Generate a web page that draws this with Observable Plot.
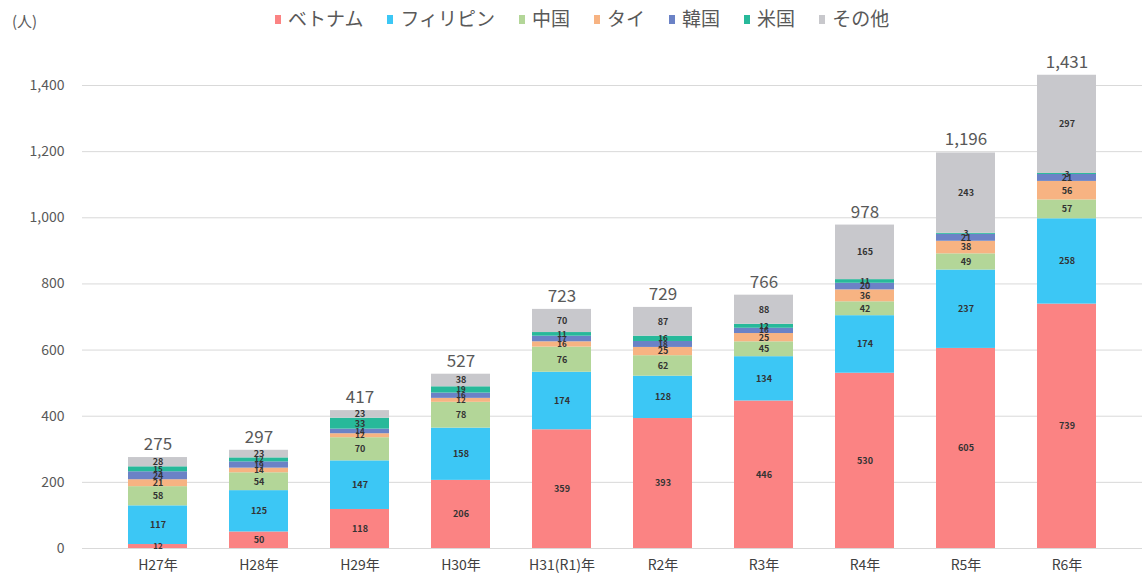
<!DOCTYPE html>
<html><head><meta charset="utf-8">
<script src="https://cdn.jsdelivr.net/npm/d3@7"></script>
<script src="https://cdn.jsdelivr.net/npm/@observablehq/plot@0.6"></script>
<style>
body{margin:0;background:#fff;font-family:"Noto Sans CJK JP","Noto Sans",sans-serif;}
#head{position:relative;height:40px;width:1142px;}
#unit{position:absolute;left:12px;top:10px;font-size:15px;color:#595959;}
#legend{position:absolute;left:275px;top:4px;display:flex;gap:24px;font-size:19px;color:#595959;align-items:center;white-space:nowrap;}
#legend span.sw{display:inline-block;width:6px;height:9px;margin-right:7px;vertical-align:middle;position:relative;top:-1px;}
</style></head>
<body>
<div id="head"><div id="unit">(人)</div><div id="legend"></div></div>
<div id="chart"></div>
<script>
const years = ["H27年","H28年","H29年","H30年","H31(R1)年","R2年","R3年","R4年","R5年","R6年"];
const categories = ["ベトナム","フィリピン","中国","タイ","韓国","米国","その他"];
const colors = ["#FB8383","#3CC7F5","#B3D698","#F7B382","#6B82C6","#27B99A","#C8C8CC"];
const vietnam     = [12,50,118,206,359,393,446,530,605,739];
const philippines = [117,125,147,158,174,128,134,174,237,258];
const china       = [58,54,70,78,76,62,45,42,49,57];
const thai        = [21,14,12,12,16,25,25,36,38,56];
const korea       = [24,19,14,16,17,18,16,20,21,21];
const usa         = [15,12,33,19,11,16,12,11,3,3];
const other       = [28,23,23,38,70,87,88,165,243,297];
const yTicks = [0,200,400,600,800,1000,1200,1400];

const series = [vietnam,philippines,china,thai,korea,usa,other];
const rows = [];
years.forEach((y,i)=>categories.forEach((c,j)=>rows.push({year:y,cat:c,value:series[j][i]})));
const totals = years.map((y,i)=>({year:y,total:d3.sum(series,s=>s[i])}));

const lg = document.getElementById("legend");
categories.forEach((c,i)=>{
  const d=document.createElement("div");
  d.innerHTML=`<span class="sw" style="background:${colors[i]}"></span>${c}`;
  lg.appendChild(d);
});

const fmt = d3.format(",");
const plot = Plot.plot({
  width:1142, height:543,
  marginLeft:82, marginRight:0, marginTop:45, marginBottom:35,
  style:{fontFamily:'"Noto Sans CJK JP","Noto Sans",sans-serif',background:"#fff"},
  x:{domain:years,padding:0.42,label:null,tickSize:0,tickPadding:12},
  y:{domain:[0,1400],ticks:yTicks,label:null,tickSize:0,tickPadding:18,tickFormat:fmt},
  color:{domain:categories,range:colors},
  marks:[
    Plot.gridY(yTicks,{stroke:"#d9d9d9",strokeOpacity:1,strokeWidth:1}),
    Plot.barY(rows,Plot.stackY({x:"year",y:"value",z:"cat",fill:"cat",order:categories})),
    Plot.text(rows,Plot.stackY({x:"year",y:"value",z:"cat",order:categories,text:d=>String(d.value),fontSize:d=>d.value<20?8:9,fontWeight:"bold",fill:"#333"})),
    Plot.text(totals,{x:"year",y:"total",text:d=>fmt(d.total),dy:-13,fontSize:17,fill:"#595959"}),
    Plot.axisX({tickSize:0,tickPadding:12,fontSize:14,color:"#404040"}),
    Plot.axisY({ticks:yTicks,tickSize:0,tickPadding:18,tickFormat:fmt,fontSize:14,color:"#595959"})
  ]
});
document.getElementById("chart").appendChild(plot);
</script>
</body></html>
